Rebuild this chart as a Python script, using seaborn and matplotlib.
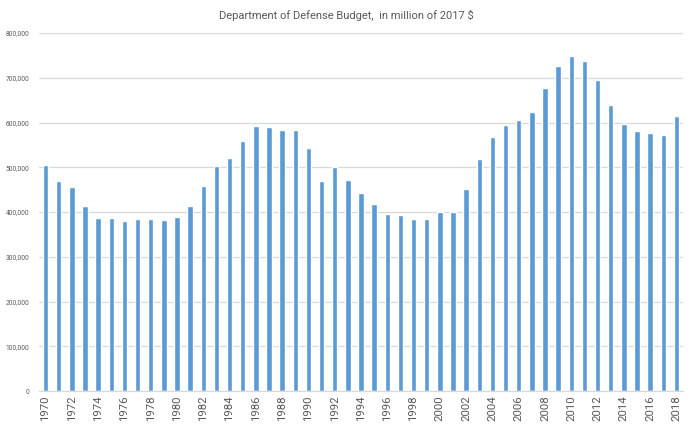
import matplotlib
matplotlib.use("Agg")
import matplotlib.pyplot as plt
import seaborn as sns
import pandas as pd
from matplotlib.ticker import FuncFormatter

years = list(range(1970, 2019))
budget = [506000, 469000, 455000, 413000, 387500, 386000, 379000, 384000, 384000, 383000,
          389000, 414500, 459000, 503000, 521000, 558000, 593000, 590000, 583000, 583000,
          542000, 470000, 500000, 472500, 443500, 417000, 395000, 393500, 384000, 384000,
          399500, 401000, 451500, 518000, 567000, 594500, 606500, 624000, 676000, 726000,
          748500, 738000, 694000, 638000, 597500, 581000, 576500, 572000, 614000]
title = "Department of Defense Budget,  in million of 2017 $"

df = pd.DataFrame({"year": [str(y) for y in years], "budget": budget})

sns.set_theme(style="white")
plt.rcParams['font.family'] = ['Roboto', 'DejaVu Sans']

fig = plt.figure(figsize=(6.93, 4.30), dpi=100)
ax = fig.add_axes([39/693, 39/430, 644/693, 358/430])
ax.set_axisbelow(True)

sns.barplot(data=df, x="year", y="budget", color="#5B9BD5", saturation=1,
            width=0.42, ax=ax)

ax.set_ylim(0, 800000)
ax.set_xlim(-0.5, len(years) - 0.5)
ax.set_yticks(range(0, 800001, 100000))
ax.yaxis.set_major_formatter(FuncFormatter(lambda v, p: f"{int(v):,}"))
ax.grid(axis="y", color="#D9D9D9", linewidth=0.9)
ax.grid(axis="x", visible=False)
ax.set_axisbelow(True)

ticks = [i for i, y in enumerate(years) if y % 2 == 0]
ax.set_xticks(ticks)
ax.set_xticklabels([str(years[i]) for i in ticks], rotation=90)

ax.tick_params(axis="x", labelsize=8.2, colors="#595959", length=0, pad=3)
ax.tick_params(axis="y", labelsize=4.8, colors="#595959", length=0, pad=7)

for s in ["top", "right", "left"]:
    ax.spines[s].set_visible(False)
ax.spines["bottom"].set_color("#D9D9D9")
ax.spines["bottom"].set_linewidth(0.9)
ax.set_xlabel("")
ax.set_ylabel("")

fig.text(0.5, 1 - 15/430, title, ha="center", va="center", fontsize=8, color="#595959")

fig.savefig("out.png", dpi=100)
